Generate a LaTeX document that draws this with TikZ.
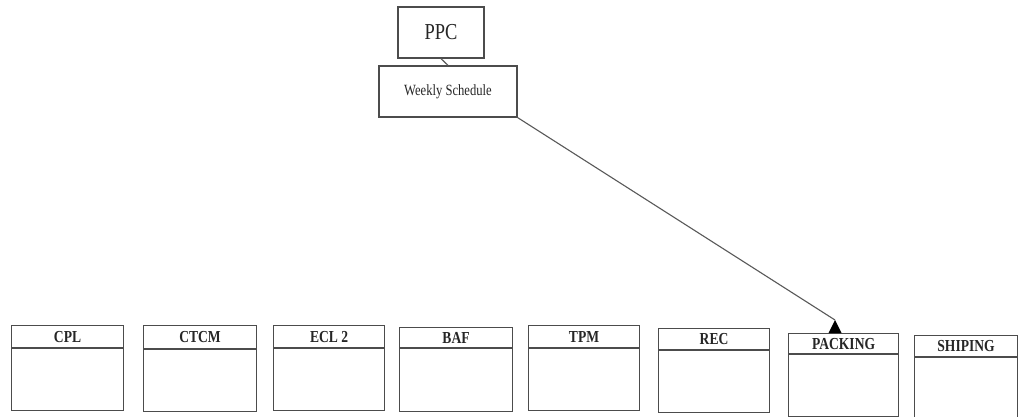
\documentclass[tikz,border=0pt]{standalone}
\usepackage{fontspec}
\usepackage{graphicx}
\setmainfont{Liberation Serif}
\newcommand\tallfont[1]{\scalebox{0.97}[1.2]{#1}}
\begin{document}
\begin{tikzpicture}[x=1pt,y=-1pt,
  frame/.style={draw=black!70,line width=1.1pt,rectangle,inner sep=0pt},
  topbox/.style={frame,text=black!85},
  hdr/.style={frame,anchor=north west,text=black!85,
    font=\bfseries\fontsize{14}{16}\selectfont},
  bodybox/.style={frame,anchor=north},
  link/.style={draw=black!65,line width=1.1pt}]
\useasboundingbox[fill=white] (0,0) rectangle (1019,416);

% top: planning and its schedule
\node[topbox,minimum width=86pt,minimum height=51pt,
  font=\fontsize{19}{21}\selectfont] (ppc) at (441,32.5) {\tallfont{PPC}};
\node[topbox,minimum width=138pt,minimum height=51pt,
  font=\fontsize{13}{15}\selectfont] (ws) at (448,91.5) {\tallfont{Weekly Schedule}};
\draw[link] (ppc.south) -- (ws.north);

% stages: name, left x, top y, width, header height, body height, label
\newcommand\stagebox[7]{%
  \node[hdr,minimum width=#4pt,minimum height=#5pt] (#1h) at (#2,#3) {\tallfont{#7}};
  \node[bodybox,minimum width=#4pt,minimum height=#6pt] (#1) at (#1h.south) {};}
\stagebox{cpl}{11}{325}{112}{22}{62}{CPL}
\stagebox{ctcm}{143}{325}{113}{23}{62}{CTCM}
\stagebox{ecl}{273}{325}{111}{22}{62}{ECL 2}
\stagebox{baf}{399}{327}{113}{20}{63}{BAF}
\stagebox{tpm}{528}{325}{111}{22}{62}{TPM}
\stagebox{rec}{658}{328}{111}{21}{62}{REC}
\stagebox{pack}{788}{333}{110}{20}{62}{PACKING}
\stagebox{ship}{914}{335}{103}{21}{62}{SHIPING}

% schedule released to packing
\coordinate (tip) at (835,320);
\draw[link] (ws.south east) -- (tip);
\fill[black] (tip) -- ++(6.5,13) -- ++(-13,0) -- cycle;
\end{tikzpicture}
\end{document}
